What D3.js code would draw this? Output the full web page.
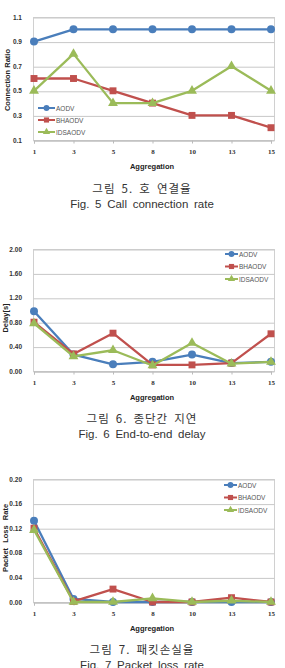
<!DOCTYPE html>
<html>
<head>
<meta charset="utf-8">
<script src="https://cdn.jsdelivr.net/npm/d3@7"></script>
<style>
  body { margin: 0; background: #fff; }
  svg { display: block; }
</style>
</head>
<body>
<svg id="page" width="285" height="668"></svg>
<script>
// shared x categories
const aggregation = ['1', '3', '5', '8', '10', '13', '15'];
const seriesNames = ['AODV', 'BHAODV', 'IDSAODV'];

// Fig. 5 connection ratio
const connAODV = [0.9, 1.0, 1.0, 1.0, 1.0, 1.0, 1.0];
const connBHAODV = [0.6, 0.6, 0.5, 0.4, 0.3, 0.3, 0.2];
const connIDSAODV = [0.5, 0.8, 0.4, 0.4, 0.5, 0.7, 0.5];
const connTicks = [0.1, 0.3, 0.5, 0.7, 0.9, 1.1];

// Fig. 6 delay
const delayAODV = [0.98, 0.27, 0.11, 0.15, 0.27, 0.13, 0.15];
const delayBHAODV = [0.80, 0.28, 0.62, 0.10, 0.10, 0.13, 0.61];
const delayIDSAODV = [0.78, 0.24, 0.34, 0.09, 0.46, 0.12, 0.15];
const delayTicks = [0, 0.4, 0.8, 1.2, 1.6, 2.0];

// Fig. 7 packet loss
const lossAODV = [0.132, 0.005, 0.0, 0.0, 0.0, 0.0, 0.0];
const lossBHAODV = [0.12, 0.001, 0.021, 0.0, 0.0, 0.007, 0.0];
const lossIDSAODV = [0.117, 0.0, 0.0, 0.006, 0.0, 0.002, 0.0];
const lossTicks = [0, 0.04, 0.08, 0.12, 0.16, 0.2];

const colors = { AODV: '#4a7ebb', BHAODV: '#c0504d', IDSAODV: '#9bbb59' };
const shapes = { AODV: d3.symbolCircle, BHAODV: d3.symbolSquare, IDSAODV: d3.symbolTriangle };
const sizes = { AODV: 50, BHAODV: 48, IDSAODV: 42 };

const svg = d3.select('#page');

function drawChart(cfg) {
  const g = svg.append('g');
  const x = d3.scalePoint().domain(aggregation).range([34, 271]);
  const y = d3.scaleLinear().domain(cfg.domain).range([cfg.bottom, cfg.top]);

  // plot frame
  g.append('rect')
    .attr('x', 33.5).attr('y', cfg.top + 0.5)
    .attr('width', 241).attr('height', cfg.bottom - cfg.top)
    .attr('fill', 'none').attr('stroke', '#d0d0d0').attr('stroke-width', 1);

  // gridlines
  const yGrid = d3.axisLeft(y).tickValues(cfg.ticks).tickSize(-241).tickFormat('');
  g.append('g').attr('transform', 'translate(33.5,0.5)').call(yGrid)
    .call((s) => s.select('.domain').remove())
    .call((s) => s.selectAll('line').attr('stroke', '#c8c8c8'));

  // y labels
  const yAxis = d3.axisLeft(y).tickValues(cfg.ticks).tickSize(0).tickPadding(11).tickFormat(d3.format(cfg.fmt));
  g.append('g').attr('transform', 'translate(33,0)').call(yAxis)
    .call((s) => s.select('.domain').remove())
    .call((s) => s.selectAll('text')
      .attr('font-family', 'Liberation Sans, Arial, sans-serif')
      .attr('font-weight', 'bold').attr('font-size', 6.5).attr('fill', '#333'));

  // x axis
  const xAxis = d3.axisBottom(x).tickSize(3).tickPadding(6);
  g.append('g').attr('transform', `translate(0,${cfg.bottom + 0.5})`).call(xAxis)
    .call((s) => s.select('.domain').attr('stroke', '#bbb'))
    .call((s) => s.selectAll('line').attr('stroke', '#bbb'))
    .call((s) => s.selectAll('text')
      .attr('font-family', 'Liberation Serif, Times New Roman, serif')
      .attr('font-weight', 'bold').attr('font-size', 7).attr('fill', '#333'));

  g.append('text')
    .attr('x', 152).attr('y', cfg.bottom + 29)
    .attr('text-anchor', 'middle')
    .attr('font-family', 'Liberation Sans, Arial, sans-serif')
    .attr('font-weight', 'bold').attr('font-size', 7.5).attr('fill', '#222')
    .text('Aggregation');

  g.append('text')
    .attr('transform', `translate(${cfg.titleX},${cfg.titleY}) rotate(-90)`)
    .attr('text-anchor', 'middle')
    .attr('font-family', 'Liberation Sans, Arial, sans-serif')
    .attr('font-weight', 'bold').attr('font-size', 7.5).attr('fill', '#222')
    .attr('word-spacing', cfg.titleSpacing || 0)
    .text(cfg.yTitle);

  // series
  const line = d3.line().x((d, i) => x(aggregation[i])).y((d) => y(d));
  seriesNames.forEach((name, k) => {
    const vals = cfg.series[k];
    g.append('path')
      .datum(vals)
      .attr('d', line)
      .attr('fill', 'none')
      .attr('stroke', colors[name])
      .attr('stroke-width', 2.3)
      .attr('stroke-linejoin', 'round');
    g.selectAll(null)
      .data(vals)
      .enter()
      .append('path')
      .attr('transform', (d, i) => `translate(${x(aggregation[i])},${y(d)})`)
      .attr('d', d3.symbol().type(shapes[name]).size(sizes[name]))
      .attr('fill', colors[name]);
  });

  // legend
  const leg = g.append('g');
  seriesNames.forEach((name, k) => {
    const ly = cfg.legY + k * cfg.legStep;
    leg.append('line')
      .attr('x1', cfg.legX).attr('x2', cfg.legX + cfg.legLen)
      .attr('y1', ly).attr('y2', ly)
      .attr('stroke', colors[name]).attr('stroke-width', 2);
    leg.append('path')
      .attr('transform', `translate(${cfg.legX + cfg.legLen / 2},${ly})`)
      .attr('d', d3.symbol().type(shapes[name]).size(sizes[name] * 0.55))
      .attr('fill', colors[name]);
    leg.append('text')
      .attr('x', cfg.legX + cfg.legLen + 1).attr('y', ly + 2.5)
      .attr('font-family', 'Liberation Sans, Arial, sans-serif')
      .attr('font-size', 6.5).attr('fill', '#555')
      .text(name);
  });

  // caption
  g.append('text')
    .attr('x', 142).attr('y', cfg.capY)
    .attr('text-anchor', 'middle')
    .attr('font-family', 'Noto Sans CJK KR, sans-serif')
    .attr('font-size', 11.5).attr('fill', '#333')
    .attr('letter-spacing', 1).attr('word-spacing', 2.5)
    .text(cfg.capKo);
  g.append('text')
    .attr('x', 142).attr('y', cfg.capY + 15)
    .attr('text-anchor', 'middle')
    .attr('font-family', 'Liberation Sans, Arial, sans-serif')
    .attr('font-size', 11.5).attr('fill', '#333')
    .attr('word-spacing', 2.5)
    .text(cfg.capEn);
}

drawChart({
  top: 17, bottom: 140, domain: [0.1, 1.1], ticks: connTicks, fmt: '.1f',
  series: [connAODV, connBHAODV, connIDSAODV],
  yTitle: 'Connection Ratio', titleX: 10, titleY: 80,
  legX: 38, legY: 108, legStep: 12, legLen: 17,
  capY: 193, capKo: '그림 5. 호 연결율', capEn: 'Fig. 5 Call connection rate'
});

drawChart({
  top: 249, bottom: 371, domain: [0, 2], ticks: delayTicks, fmt: '.2f',
  series: [delayAODV, delayBHAODV, delayIDSAODV],
  yTitle: 'Delay[s]', titleX: 8, titleY: 318,
  legX: 225, legY: 254, legStep: 12.5, legLen: 13,
  capY: 423, capKo: '그림 6. 종단간 지연', capEn: 'Fig. 6 End-to-end delay'
});

drawChart({
  top: 479, bottom: 602, domain: [0, 0.2], ticks: lossTicks, fmt: '.2f',
  series: [lossAODV, lossBHAODV, lossIDSAODV],
  yTitle: 'Packet Loss Rate', titleX: 8, titleY: 538, titleSpacing: 3,
  legX: 224, legY: 485, legStep: 12.5, legLen: 13,
  capY: 654, capKo: '그림 7. 패킷손실율', capEn: 'Fig. 7 Packet loss rate'
});
</script>
</body>
</html>
